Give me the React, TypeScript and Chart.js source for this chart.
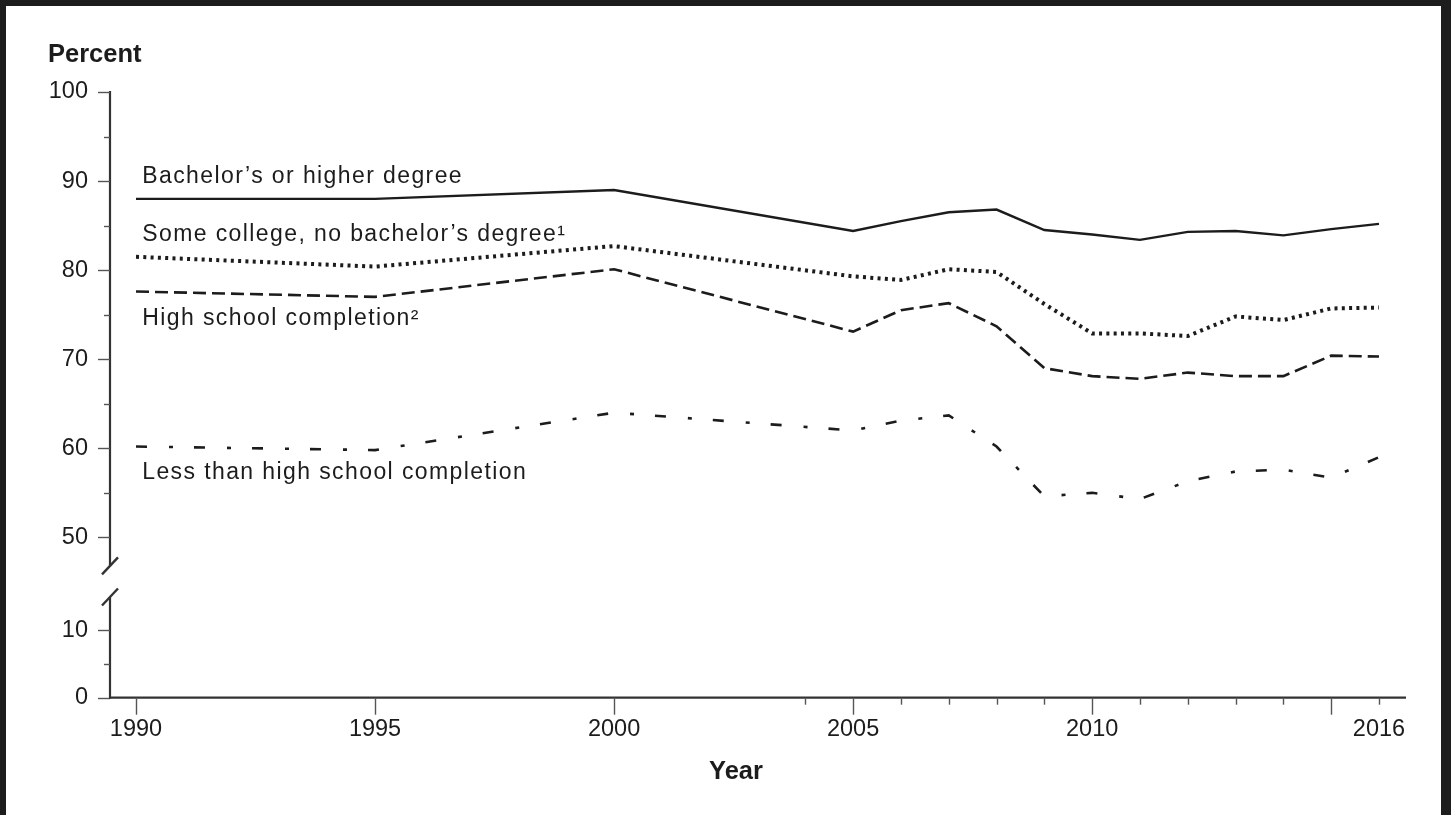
import React, { useEffect, useRef } from "react";
import { Chart, registerables } from "chart.js";

Chart.register(...registerables);

// ---------- Data ----------
const years = [1990, 1995, 2000, 2005, 2006, 2007, 2008, 2009, 2010, 2011, 2012, 2013, 2014, 2015, 2016];
const bachelorsOrHigher = [88.0, 88.0, 89.0, 84.4, 85.5, 86.5, 86.8, 84.5, 84.0, 83.4, 84.3, 84.4, 83.9, 84.6, 85.2];
const someCollege = [81.5, 80.4, 82.7, 79.3, 78.9, 80.1, 79.8, 76.2, 72.9, 72.9, 72.6, 74.8, 74.4, 75.7, 75.8];
const highSchool = [77.6, 77.0, 80.1, 73.1, 75.5, 76.3, 73.7, 69.0, 68.1, 67.8, 68.5, 68.1, 68.1, 70.4, 70.3];
const lessThanHighSchool = [60.2, 59.8, 64.0, 62.0, 63.1, 63.7, 60.2, 54.6, 55.0, 54.3, 56.3, 57.4, 57.6, 56.7, 59.0];

const seriesLabels = [
  "Bachelor’s or higher degree",
  "Some college, no bachelor’s degree¹",
  "High school completion²",
  "Less than high school completion",
];

const yMajorTicks = [0, 10, 50, 60, 70, 80, 90, 100];
const yMinorTicks = [5, 55, 65, 75, 85, 95];
const xMajorTicks = [1990, 1995, 2000, 2005, 2010, 2015];
const xMinorTicks = [2004, 2006, 2007, 2008, 2009, 2011, 2012, 2013, 2014, 2016];
const xTickLabels = [1990, 1995, 2000, 2005, 2010, 2016];

const yAxisTitle = "Percent";
const xAxisTitle = "Year";

// ---------- Layout / style config ----------
const INK = "#1c1c1c";
const FONT = "'Liberation Sans', Arial, Helvetica, sans-serif";
// broken axis: values >= 50 drawn as-is, lower section compressed
const Y_BOTTOM_BASE = 32.0;
const Y_BOTTOM_SCALE = 0.758;
const BREAK_UPPER = 46.8; // display units where upper axis segment ends
const BREAK_LOWER = 43.3; // display units where lower axis segment starts
const toDisplay = (v: number) => (v >= 50 ? v : Y_BOTTOM_BASE + v * Y_BOTTOM_SCALE);
const fromDisplay = (d: number) =>
  d >= 49 ? Math.round(d) : Math.round((d - Y_BOTTOM_BASE) / Y_BOTTOM_SCALE);

const LABEL_X = 1990.13;
const LABEL_Y = [90.48, 83.97, 74.54, 57.24];
const X_TITLE_AT = 2002.55;

const decorPlugin = {
  id: "decor",
  afterDraw(chart: any) {
    const ctx = chart.ctx as CanvasRenderingContext2D;
    const xs = chart.scales.x;
    const ys = chart.scales.y;
    const area = chart.chartArea;
    ctx.save();
    ctx.strokeStyle = "#333";
    ctx.fillStyle = INK;
    ctx.lineCap = "butt";

    // y axis line in two segments
    const ax = area.left;
    ctx.lineWidth = 2.2;
    ctx.beginPath();
    ctx.moveTo(ax, ys.getPixelForValue(100) - 1);
    ctx.lineTo(ax, ys.getPixelForValue(BREAK_UPPER));
    ctx.moveTo(ax, ys.getPixelForValue(BREAK_LOWER));
    ctx.lineTo(ax, ys.getPixelForValue(toDisplay(0)) + 1);
    ctx.stroke();
    // break slashes
    ctx.lineWidth = 2.4;
    [BREAK_UPPER, BREAK_LOWER].forEach((b) => {
      const py = ys.getPixelForValue(b);
      ctx.beginPath();
      ctx.moveTo(ax - 8, py + 8.5);
      ctx.lineTo(ax + 8, py - 8.5);
      ctx.stroke();
    });

    // y tick marks
    ctx.lineWidth = 1.4;
    ctx.strokeStyle = "#555";
    yMajorTicks.forEach((v) => {
      const py = Math.round(ys.getPixelForValue(toDisplay(v))) + 0.5;
      ctx.beginPath();
      ctx.moveTo(ax - 12, py);
      ctx.lineTo(ax, py);
      ctx.stroke();
    });
    yMinorTicks.forEach((v) => {
      const py = Math.round(ys.getPixelForValue(toDisplay(v))) + 0.5;
      ctx.beginPath();
      ctx.moveTo(ax - 6, py);
      ctx.lineTo(ax, py);
      ctx.stroke();
    });

    // x axis line
    const ay = ys.getPixelForValue(toDisplay(0));
    ctx.strokeStyle = "#333";
    ctx.lineWidth = 2.2;
    ctx.beginPath();
    ctx.moveTo(ax - 1, ay);
    ctx.lineTo(area.right, ay);
    ctx.stroke();
    ctx.strokeStyle = "#555";
    ctx.lineWidth = 1.4;
    xMajorTicks.forEach((v) => {
      const px = Math.round(xs.getPixelForValue(v)) + 0.5;
      ctx.beginPath();
      ctx.moveTo(px, ay);
      ctx.lineTo(px, ay + 17);
      ctx.stroke();
    });
    xMinorTicks.forEach((v) => {
      const px = Math.round(xs.getPixelForValue(v)) + 0.5;
      ctx.beginPath();
      ctx.moveTo(px, ay);
      ctx.lineTo(px, ay + 7);
      ctx.stroke();
    });

    // axis titles
    ctx.fillStyle = INK;
    ctx.font = `bold 25.5px ${FONT}`;
    ctx.textBaseline = "middle";
    ctx.textAlign = "left";
    ctx.fillText(yAxisTitle, 48, 55);
    ctx.textAlign = "center";
    ctx.fillText(xAxisTitle, xs.getPixelForValue(X_TITLE_AT), 772);

    // series labels
    ctx.font = `23px ${FONT}`;
    (ctx as any).letterSpacing = "1.4px";
    ctx.textAlign = "left";
    seriesLabels.forEach((t, i) => {
      ctx.fillText(t, xs.getPixelForValue(LABEL_X), ys.getPixelForValue(LABEL_Y[i]));
    });
    (ctx as any).letterSpacing = "0px";
    ctx.restore();
  },
};

export default function App() {
  const canvasRef = useRef<HTMLCanvasElement | null>(null);

  useEffect(() => {
    const canvas = canvasRef.current;
    if (!canvas) return;
    const mk = (data: number[]) => years.map((y, i) => ({ x: y, y: toDisplay(data[i]) }));
    const base = {
      borderColor: INK,
      pointRadius: 0,
      fill: false,
      tension: 0,
      borderCapStyle: "butt" as const,
      borderJoinStyle: "miter" as const,
    };
    const chart = new Chart(canvas, {
      type: "line",
      data: {
        datasets: [
          { ...base, label: seriesLabels[0], data: mk(bachelorsOrHigher), borderWidth: 2.4 },
          { ...base, label: seriesLabels[1], data: mk(someCollege), borderWidth: 4, borderDash: [3, 4.3] },
          { ...base, label: seriesLabels[2], data: mk(highSchool), borderWidth: 2.6, borderDash: [13, 6] },
          { ...base, label: seriesLabels[3], data: mk(lessThanHighSchool), borderWidth: 2.6, borderDash: [11, 22, 4, 21] },
        ],
      },
      options: {
        responsive: false,
        animation: false,
        events: [],
        layout: { padding: { top: 92, right: 45, left: 0, bottom: 0 } },
        plugins: { legend: { display: false }, tooltip: { enabled: false }, title: { display: false } },
        scales: {
          x: {
            type: "linear",
            min: 1989.456,
            max: 2016.565,
            grid: { display: false, drawTicks: false, tickLength: 0 },
            border: { display: false },
            ticks: {
              autoSkip: false,
              maxRotation: 0,
              padding: 18,
              color: INK,
              font: { family: FONT, size: 23.5 },
              callback: (v: any) => String(v),
            },
            afterBuildTicks: (s: any) => {
              s.ticks = xTickLabels.map((v) => ({ value: v }));
            },
            afterFit: (s: any) => {
              s.height = 117.3;
            },
          },
          y: {
            type: "linear",
            min: Y_BOTTOM_BASE,
            max: 100,
            grid: { display: false, drawTicks: false, tickLength: 0 },
            border: { display: false },
            ticks: {
              autoSkip: false,
              padding: 22,
              color: INK,
              font: { family: FONT, size: 23.5 },
              callback: (v: any) => String(fromDisplay(Number(v))),
            },
            afterBuildTicks: (s: any) => {
              s.ticks = yMajorTicks.map((v) => ({ value: toDisplay(v) }));
            },
            afterFit: (s: any) => {
              s.width = 110;
            },
          },
        },
      },
      plugins: [decorPlugin],
    });
    return () => chart.destroy();
  }, []);

  return (
    <div style={{ position: "fixed", left: 0, top: 0, width: 1451, height: 815, background: "#1d1d1d", overflow: "hidden" }}>
      <div style={{ position: "absolute", left: 6, top: 6, width: 1435, height: 809, background: "#ffffff" }} />
      <canvas ref={canvasRef} width={1451} height={815} style={{ position: "absolute", left: 0, top: 0, width: 1451, height: 815 }} />
    </div>
  );
}
